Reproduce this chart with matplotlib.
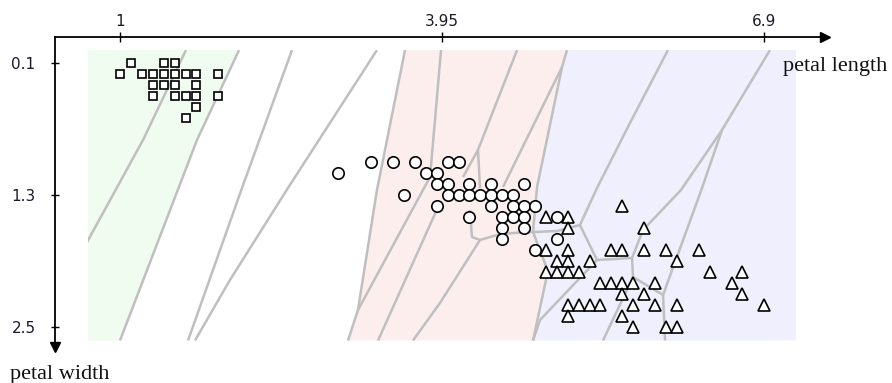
import matplotlib.pyplot as plt
from matplotlib.patches import Polygon, Rectangle

# iris petal measurements, one mark per distinct (length, width) pair
square_length = [1.1, 1.4, 1.5,
                 1.0, 1.2, 1.3, 1.4, 1.5, 1.6, 1.7, 1.9,
                 1.3, 1.4, 1.5, 1.7,
                 1.3, 1.5, 1.6, 1.7, 1.9,
                 1.7, 1.6]
square_width = [0.1, 0.1, 0.1,
                0.2, 0.2, 0.2, 0.2, 0.2, 0.2, 0.2, 0.2,
                0.3, 0.3, 0.3, 0.3,
                0.4, 0.4, 0.4, 0.4, 0.4,
                0.5, 0.6]

circle_length = [3.3, 3.5, 3.7, 4.0, 4.1,
                 3.0, 3.8, 3.9,
                 3.9, 4.0, 4.2, 4.4, 4.7,
                 3.6, 4.0, 4.1, 4.2, 4.3, 4.4, 4.5, 4.6,
                 3.9, 4.4, 4.6, 4.7, 4.8,
                 4.2, 4.5, 4.6, 4.7, 5.0,
                 4.5, 4.7,
                 4.5, 5.0,
                 4.8]
circle_width = [1.0, 1.0, 1.0, 1.0, 1.0,
                1.1, 1.1, 1.1,
                1.2, 1.2, 1.2, 1.2, 1.2,
                1.3, 1.3, 1.3, 1.3, 1.3, 1.3, 1.3, 1.3,
                1.4, 1.4, 1.4, 1.4, 1.4,
                1.5, 1.5, 1.5, 1.5, 1.5,
                1.6, 1.6,
                1.7, 1.7,
                1.8]

triangle_length = [5.6,
                   4.9, 5.1,
                   5.1, 5.8,
                   4.9, 5.1, 5.5, 5.6, 5.8, 6.0, 6.3,
                   5.0, 5.1, 5.3, 6.1,
                   4.9, 5.0, 5.1, 5.2, 6.4, 6.7,
                   5.4, 5.5, 5.6, 5.7, 5.9, 6.6,
                   5.6, 5.8, 6.7,
                   5.1, 5.2, 5.3, 5.4, 5.7, 5.9, 6.1, 6.9,
                   5.1, 5.6,
                   5.7, 6.0, 6.1]
triangle_width = [1.4,
                  1.5, 1.5,
                  1.6, 1.6,
                  1.8, 1.8, 1.8, 1.8, 1.8, 1.8, 1.8,
                  1.9, 1.9, 1.9, 1.9,
                  2.0, 2.0, 2.0, 2.0, 2.0, 2.0,
                  2.1, 2.1, 2.1, 2.1, 2.1, 2.1,
                  2.2, 2.2, 2.2,
                  2.3, 2.3, 2.3, 2.3, 2.3, 2.3, 2.3, 2.3,
                  2.4, 2.4,
                  2.5, 2.5, 2.5]

x_ticks = [1, 3.95, 6.9]
x_tick_labels = ['1', '3.95', '6.9']
y_ticks = [0.1, 1.3, 2.5]
y_tick_labels = ['0.1', '1.3', '2.5']

# plotting window (data range padded by 5%)
len_lo, len_hi = 0.705, 7.195
wid_lo, wid_hi = -0.02, 2.62

# class region outlines
green_edge = [(2.090, -0.02), (1.705, 0.797), (1.0, 2.62)]
pink_left = [(3.610, -0.02), (3.353, 1.252), (3.179, 2.343), (3.088, 2.62)]
pink_right = [(5.093, -0.02), (5.048, 0.134), (4.819, 1.225), (4.782, 1.634),
              (4.901, 1.943), (4.901, 2.070), (4.782, 2.62)]

# cell borders
edges = [
    [(1.604, -0.02), (1.211, 0.797), (0.690, 1.74)],
    [(2.090, -0.02), (1.705, 0.797), (1.0, 2.62)],
    [(2.575, -0.02), (2.117, 1.234), (1.623, 2.62)],
    [(3.353, -0.02), (2.538, 1.234), (2.007, 2.070), (1.687, 2.62)],
    [(3.610, -0.02), (3.353, 1.252), (3.179, 2.343), (3.088, 2.62)],
    [(3.940, -0.02), (3.839, 1.134), (3.179, 2.343)],
    [(3.900, 1.434), (3.363, 2.62)],
    [(4.297, 1.706), (3.930, 2.279), (3.683, 2.62)],
    [(4.636, -0.02), (4.278, 0.888), (4.297, 1.234)],
    [(4.278, 0.888), (4.141, 1.134)],
    [(5.093, -0.02), (5.048, 0.134), (4.507, 1.225)],
    [(5.048, 0.134), (4.819, 1.225), (4.782, 1.634), (4.901, 1.943),
     (4.901, 2.070), (4.782, 2.62)],
    [(4.205, 1.434), (4.223, 1.679), (4.297, 1.706), (4.452, 1.661),
     (4.599, 1.643), (4.782, 1.634), (5.002, 1.625), (5.212, 1.570)],
    [(6.018, -0.02), (5.670, 0.643), (5.368, 1.234), (5.212, 1.570),
     (5.368, 1.888), (5.689, 1.870)],
    [(5.368, 1.888), (4.846, 2.434), (4.782, 2.62)],
    [(6.952, -0.02), (6.513, 0.706), (6.137, 1.252), (5.789, 1.616),
     (5.689, 1.870), (5.698, 2.043), (5.973, 2.206), (5.991, 2.62)],
    [(6.513, 0.706), (6.330, 1.234), (5.973, 2.206)],
    [(5.698, 2.043), (5.423, 2.62)],
]

W, H = 892, 383
px_len, px_wid = 109.2, 110.0      # pixels per unit
x0_px, y0_px = 120.0, 63.3         # pixel position of (1, 0.1)
left_px, right_px, top_px, bottom_px = 55, 825, 37, 347

fig = plt.figure(figsize=(W / 100, H / 100), dpi=100)
ax = fig.add_axes([left_px / W, 1 - bottom_px / H,
                   (right_px - left_px) / W, (bottom_px - top_px) / H])
ax.set_xlim(1 + (left_px - x0_px) / px_len, 1 + (right_px - x0_px) / px_len)
ax.set_ylim(0.1 + (bottom_px - y0_px) / px_wid, 0.1 + (top_px - y0_px) / px_wid)

for side in ['right', 'bottom']:
    ax.spines[side].set_visible(False)
for side in ['top', 'left']:
    ax.spines[side].set_linewidth(1.3)
ax.xaxis.set_ticks_position('top')
ax.set_xticks(x_ticks, labels=x_tick_labels)
ax.set_yticks(y_ticks, labels=y_tick_labels)
ax.tick_params(axis='x', direction='inout', length=7, width=1, pad=2,
               labelsize=11, labelcolor='#1a1a2a')
ax.tick_params(axis='y', direction='inout', length=6, width=1, pad=11,
               labelsize=11, labelcolor='#1a1a2a')

# arrow heads on both axes
ax.plot(1, 1, marker='>', ms=7.5, color='black', transform=ax.transAxes, clip_on=False)
ax.plot(0, 0, marker='v', ms=7.5, color='black', transform=ax.transAxes, clip_on=False)

frame = Rectangle((len_lo, wid_lo), len_hi - len_lo, wid_hi - wid_lo,
                  facecolor='white', edgecolor='none', zorder=0)
ax.add_patch(frame)

green_poly = [(len_lo, wid_lo)] + green_edge + [(len_lo, wid_hi)]
pink_poly = pink_left + pink_right[::-1]
blue_poly = pink_right + [(len_hi, wid_hi), (len_hi, wid_lo)]
for poly, col in [(green_poly, '#effcef'), (pink_poly, '#fdeeee'), (blue_poly, '#efeffd')]:
    patch = Polygon(poly, closed=True, facecolor=col, edgecolor='none', zorder=0.5)
    ax.add_patch(patch)
    patch.set_clip_path(frame)

for e in edges:
    xs = [p[0] for p in e]
    ys = [p[1] for p in e]
    ln, = ax.plot(xs, ys, color='#bfbfbf', lw=1.8, solid_capstyle='butt', zorder=1)
    ln.set_clip_path(frame)

mk = dict(linestyle='none', markerfacecolor='white', markeredgecolor='black',
          markeredgewidth=1.2, zorder=3)
ax.plot(square_length, square_width, marker='s', ms=5.6, **mk)
ax.plot(circle_length, circle_width, marker='o', ms=8.2, **mk)
ax.plot(triangle_length, triangle_width, marker='^', ms=8.6, **mk)

fig.text(783 / W, 1 - 71 / H, 'petal length', family='Liberation Serif',
         fontsize=16, ha='left', va='baseline', color='#111111')
fig.text(10 / W, 1 - 379 / H, 'petal width', family='Liberation Serif',
         fontsize=16, ha='left', va='baseline', color='#111111')

fig.savefig('out.png', dpi=100)
